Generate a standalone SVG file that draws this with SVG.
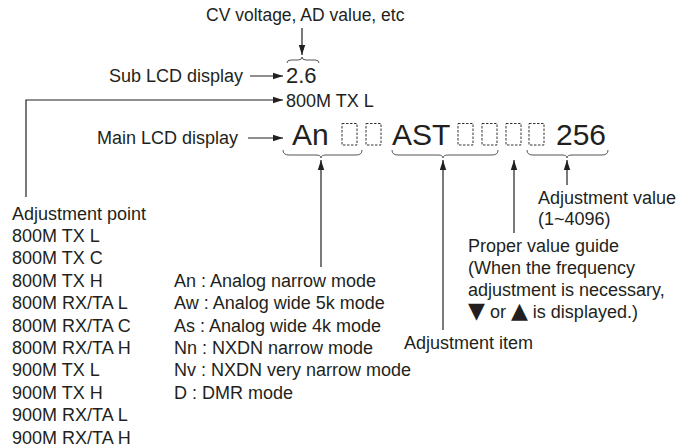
<svg xmlns="http://www.w3.org/2000/svg" width="683" height="447" viewBox="0 0 683 447">
<defs>
<marker id="ah" viewBox="0 0 10 8" refX="10" refY="4" markerWidth="10" markerHeight="8" markerUnits="userSpaceOnUse" orient="auto">
<path d="M0,0.8 L10,4 L0,7.2 Z" fill="#231f20"/>
</marker>
<style>
text{font-family:"Liberation Sans","DejaVu Sans",Arial,sans-serif;fill:#231f20;font-size:18px}
.big{font-size:30px}
.mid{font-size:22px}
.tri{font-family:"DejaVu Sans",sans-serif;font-size:22px}
.ln{stroke:#231f20;stroke-width:1.2;fill:none}
.arr{stroke:#231f20;stroke-width:1.2;fill:none;marker-end:url(#ah)}
.brace{stroke:#555;stroke-width:1;fill:none}
.box{stroke:#333;stroke-width:1;stroke-dasharray:2.5 1.5;fill:none}
</style>
</defs>
<rect width="683" height="447" fill="#fff"/>

<g id="cv-label"><text x="206" y="21" style="font-size:17.5px">CV voltage, AD value, etc</text></g>
<g id="sub-lcd-label"><text x="243" y="82" text-anchor="end">Sub LCD display</text></g>
<g id="sub-lcd"><text class="mid" x="286" y="83">2.6</text>
<path class="brace" d="M287,63 Q287,60 291,60 L298,60 Q302,60 302,57 Q302,60 306,60 L315,60 Q319,60 319,63"/></g>
<g id="channel"><text x="286" y="107">800M TX L</text></g>
<g id="main-lcd-label"><text x="238" y="144" text-anchor="end">Main LCD display</text></g>
<g id="main-lcd">
<text class="big" x="292" y="145">An</text>
<rect class="box" x="342" y="123.5" width="15" height="21.5"/>
<rect class="box" x="366" y="123.5" width="15" height="21.5"/>
<text class="big" x="392" y="145">AST</text>
<rect class="box" x="458" y="123.5" width="15" height="21.5"/>
<rect class="box" x="482" y="123.5" width="15" height="21.5"/>
<rect class="box" x="506" y="123.5" width="15" height="21.5"/>
<rect class="box" x="529" y="123.5" width="15" height="21.5"/>
<text class="big" x="556" y="145">256</text>
<path class="brace" d="M283,150 Q283,155 289,155 L316,155 Q321,155 321,158 Q321,155 326,155 L356,155 Q362,155 362,150"/>
<path class="brace" d="M392,150 Q392,155 398,155 L438,155 Q443,155 443,158 Q443,155 448,155 L492,155 Q498,155 498,150"/>
<path class="brace" d="M527,150 Q527,155 533,155 L562,155 Q567,155 567,158 Q567,155 572,155 L602,155 Q608,155 608,150"/>
</g>

<g id="adjustment-point">
<text x="12" y="219.5">Adjustment point</text>
<text x="12" y="241.9">800M TX L</text>
<text x="12" y="264.3">800M TX C</text>
<text x="12" y="286.7">800M TX H</text>
<text x="12" y="309.1">800M RX/TA L</text>
<text x="12" y="331.5">800M RX/TA C</text>
<text x="12" y="353.9">800M RX/TA H</text>
<text x="12" y="376.3">900M TX L</text>
<text x="12" y="398.7">900M TX H</text>
<text x="12" y="421.1">900M RX/TA L</text>
<text x="12" y="443.5">900M RX/TA H</text>
</g>
<g id="modes">
<text x="174" y="286.7">An : Analog narrow mode</text>
<text x="174" y="309.1">Aw : Analog wide 5k mode</text>
<text x="174" y="331.5">As : Analog wide 4k mode</text>
<text x="174" y="353.9">Nn : NXDN narrow mode</text>
<text x="174" y="376.3">Nv : NXDN very narrow mode</text>
<text x="174" y="398.7">D : DMR mode</text>
</g>
<g id="adjustment-item"><text x="404" y="349">Adjustment item</text></g>
<g id="proper-value-guide">
<text x="468" y="252">Proper value guide</text>
<text x="468" y="274">(When the frequency</text>
<text x="468" y="296">adjustment is necessary,</text>
<text x="468" y="318"><tspan class="tri">▼</tspan> or <tspan class="tri">▲</tspan> is displayed.)</text>
</g>
<g id="adjustment-value">
<text x="538" y="204">Adjustment value</text>
<text x="538" y="225">(1~4096)</text>
</g>

<g id="connectors">
<line class="arr" x1="302" y1="28" x2="302" y2="55"/>
<line class="arr" x1="250" y1="76" x2="283" y2="76"/>
<polyline class="arr" points="26,197 26,100 283,100"/>
<line class="arr" x1="248" y1="138" x2="283" y2="138"/>
<line class="arr" x1="321" y1="267" x2="321" y2="160"/>
<line class="arr" x1="443" y1="330" x2="443" y2="160"/>
<line class="arr" x1="514" y1="233" x2="514" y2="160"/>
<line class="arr" x1="567" y1="185" x2="567" y2="160"/>
</g>
</svg>
